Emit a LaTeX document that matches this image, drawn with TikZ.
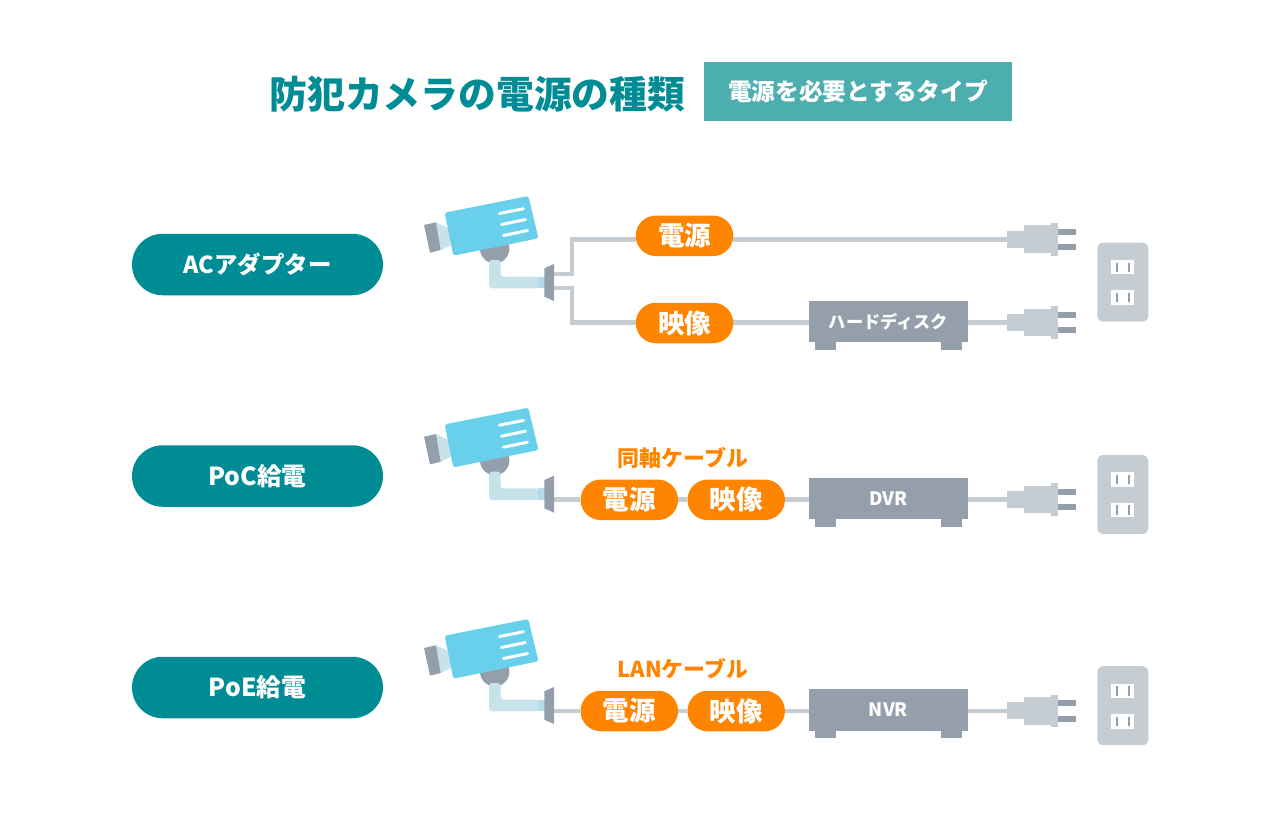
\documentclass[tikz,border=0pt]{standalone}
\usepackage{fontspec}
\setmainfont{Noto Sans CJK JP}
\usepackage{xcolor}
\usepackage{tikz}
\usetikzlibrary{backgrounds}

\definecolor{tealtitle}{HTML}{008C95}
\definecolor{tealbox}{HTML}{4DAEB0}
\definecolor{orangepill}{HTML}{FF8500}
\definecolor{greybox}{HTML}{949FAB}
\definecolor{greywire}{HTML}{C5CCD2}
\definecolor{camblue}{HTML}{68D0EA}
\definecolor{camarm}{HTML}{C6E3EC}
\definecolor{camarmdark}{HTML}{B4DBE7}

\tikzset{
  rowlabel/.style={fill=tealtitle,text=white,rounded corners=30.7pt,minimum width=251pt,minimum height=61.5pt,inner sep=0pt,font=\fontsize{23.4}{24}\selectfont\bfseries},
  signal/.style={fill=orangepill,text=white,rounded corners=20.2pt,minimum width=97.5pt,minimum height=40.5pt,inner sep=0pt,font=\fontsize{26.5}{27}\selectfont\bfseries},
  recorder/.style={fill=greybox,text=white,minimum width=159.5pt,minimum height=41.5pt,inner sep=0pt,font=\fontsize{17.2}{18}\selectfont\bfseries},
  cablename/.style={text=orangepill,inner sep=0pt,font=\fontsize{21.9}{22}\selectfont\bfseries},
  wire/.style={draw=greywire,line width=4.5pt},
  camera/.pic={
    \fill[greybox] (494.7,248.7) circle (14.7);
    \fill[camarm,rounded corners=3pt] (489,260) -- (489,288.3) -- (539,288.3) -- (539,276.7) -- (500.7,276.7) -- (500.7,260) -- cycle;
    \fill[camarmdark] (538,276.7) rectangle (545,288.3);
    \fill[camarm] (436,222.3) -- (448,228) -- (451,245) -- (440.7,250) -- cycle;
    \fill[greybox] (424,225) -- (436,222.3) -- (440.7,250) -- (430,252.7) -- cycle;
    \fill[camblue,rounded corners=2.5pt] (444.7,212.7) -- (528.3,196) -- (538.5,238.3) -- (453.3,255.7) -- cycle;
    \draw[white,line width=3pt,line cap=round] (499.5,213.5) -- (523.5,208.7);
    \draw[white,line width=3pt,line cap=round] (501.5,224.5) -- (525.5,219.5);
    \draw[white,line width=3pt,line cap=round] (503.5,235.5) -- (527.5,230.5);
    \fill[greybox] (544.3,268.3) -- (554,264) -- (554,301) -- (544.3,296.7) -- cycle;
  },
  plug/.pic={
    \fill[greywire] (0,-8.5) rectangle (17.3,8.5);
    \fill[greywire] (17.3,-14) rectangle (44,13.7);
    \fill[greywire] (44,-16.3) rectangle (51,16.3);
    \fill[greybox] (51,-10.8) rectangle (69,-4.7);
    \fill[greybox] (51,4.7) rectangle (69,10.8);
  },
  outlet/.pic={
    \fill[greywire,rounded corners=6pt] (1097.3,242.7) rectangle (1148.3,321.7);
    \fill[white] (1111,260) rectangle (1134.3,274.3);
    \fill[white] (1111,290.3) rectangle (1134.3,305);
    \draw[greybox,line width=2pt] (1116.7,262.7) -- (1116.7,272);
    \draw[greybox,line width=2pt] (1128.7,262.7) -- (1128.7,272);
    \draw[greybox,line width=2pt] (1116.7,293) -- (1116.7,302.3);
    \draw[greybox,line width=2pt] (1128.7,293) -- (1128.7,302.3);
  },
  feet/.pic={
    \fill[greybox] (-73.5,-1) rectangle (-52.5,7.5);
    \fill[greybox] (52.5,-1) rectangle (73.5,7.5);
  }
}

\begin{document}
\begin{tikzpicture}[x=1pt,y=-1pt]
\useasboundingbox (0,0) rectangle (1280,830);

% title
\node at (477.3,94) [text=tealtitle,inner sep=0pt,font=\fontsize{37.8}{38}\selectfont\bfseries] (title) {防犯カメラの電源の種類};
\node at (858,91.5) [fill=tealbox,text=white,minimum width=308pt,minimum height=59pt,inner sep=0pt,font=\fontsize{23.7}{24}\selectfont\bfseries] (subtitle) {電源を必要とするタイプ};

% AC adapter
\node at (257.5,264.5) [rowlabel] (ac) {ACアダプター};
\pic at (0,0) {camera};
\pic at (0,0) {outlet};
\coordinate (conn1a) at (554,274);
\coordinate (conn1b) at (554,288);
\coordinate (bend1a) at (572,274);
\coordinate (bend1b) at (572,288);
\coordinate (plug1a) at (1007,239.3);
\coordinate (plug1b) at (1007,322.5);
\node at (684.5,235.8) [signal] (power1) {電源};
\node at (684.5,323) [signal] (video1) {映像};
\node at (888.5,321.5) [recorder] (hdd1) {ハードディスク};
\pic at (hdd1.south) {feet};
\pic at (plug1a) {plug};
\pic at (plug1b) {plug};
\begin{scope}[on background layer]
\draw[wire] (conn1a) -- (bend1a) |- (power1.west |- plug1a);
\draw[wire] (power1.east |- plug1a) -- (plug1a);
\draw[wire] (conn1b) -- (bend1b) |- (video1.west |- plug1b);
\draw[wire] (video1.east |- plug1b) -- (hdd1.west |- plug1b);
\draw[wire] (hdd1.east |- plug1b) -- (plug1b);
\end{scope}

% PoC
\node at (257.5,476) [rowlabel,font=\fontsize{24.8}{25}\selectfont\bfseries] (poc) {PoC給電};
\pic at (0,211.7) {camera};
\pic at (0,212.3) {outlet};
\coordinate (conn2) at (554,499.5);
\coordinate (plug2) at (1007,499.5);
\node at (683,457.5) [cablename] (cable2) {同軸ケーブル};
\node at (629.3,499.8) [signal] (power2) {電源};
\node at (736.2,499.8) [signal] (video2) {映像};
\node at (888.5,498.6) [recorder,font=\fontsize{18.5}{19}\selectfont\bfseries] (dvr2) {DVR};
\pic at (dvr2.south) {feet};
\pic at (plug2) {plug};
\begin{scope}[on background layer]
\draw[wire] (conn2) -- (power2.west |- conn2);
\draw[wire] (power2.east |- conn2) -- (video2.west |- conn2);
\draw[wire] (video2.east |- conn2) -- (dvr2.west |- conn2);
\draw[wire] (dvr2.east |- conn2) -- (plug2);
\end{scope}

% PoE
\node at (257.5,687.5) [rowlabel,font=\fontsize{24.8}{25}\selectfont\bfseries] (poe) {PoE給電};
\pic at (0,423) {camera};
\pic at (0,423.5) {outlet};
\coordinate (conn3) at (554,710.8);
\coordinate (plug3) at (1007,710.8);
\node at (683,668.5) [cablename] (cable3) {LANケーブル};
\node at (629.3,711) [signal] (power3) {電源};
\node at (736.2,711) [signal] (video3) {映像};
\node at (888.5,709.8) [recorder,font=\fontsize{18.5}{19}\selectfont\bfseries] (nvr3) {NVR};
\pic at (nvr3.south) {feet};
\pic at (plug3) {plug};
\begin{scope}[on background layer]
\draw[wire] (conn3) -- (power3.west |- conn3);
\draw[wire] (power3.east |- conn3) -- (video3.west |- conn3);
\draw[wire] (video3.east |- conn3) -- (nvr3.west |- conn3);
\draw[wire] (nvr3.east |- conn3) -- (plug3);
\end{scope}
\end{tikzpicture}
\end{document}
